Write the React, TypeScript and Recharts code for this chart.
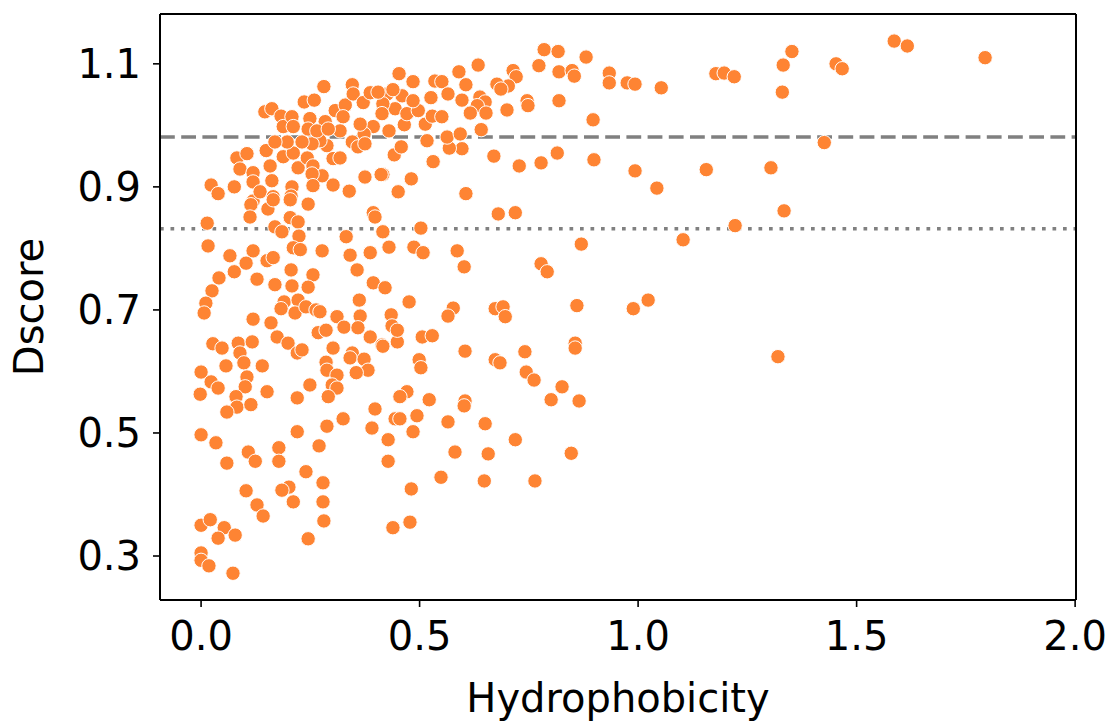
import { ScatterChart, Scatter, XAxis, YAxis, ReferenceLine } from 'recharts';

// values
const hydrophobicity = [
  0.975, 0.993, 1.053, 1.178, 1.197, 1.22, 1.332, 1.352, 1.33, 1.453, 1.467, 1.586, 1.616, 1.794,
  1.426, 0.993, 1.043, 1.156, 1.304, 1.334, 1.222, 1.103, 0.989, 1.023, 1.32,
  0.785, 0.817, 0.881, 0.773, 0.819, 0.849, 0.854, 0.934, 0.934, 0.819, 0.897, 0.714, 0.721, 0.703,
  0.677, 0.686, 0.634, 0.59, 0.606, 0.597, 0.638, 0.65, 0.632, 0.616, 0.652, 0.641, 0.7, 0.746,
  0.748, 0.67, 0.728, 0.778, 0.815, 0.899, 0.606, 0.481, 0.451, 0.416, 0.531, 0.442, 0.458, 0.597,
  0.568, 0.563, 0.593, 0.517, 0.43, 0.465, 0.513, 0.526, 0.535, 0.551, 0.565, 0.485, 0.453, 0.46,
  0.444, 0.471, 0.497, 0.529, 0.551, 0.485, 0.426, 0.416, 0.68, 0.719,
  0.281, 0.346, 0.236, 0.259, 0.146, 0.162, 0.183, 0.188, 0.208, 0.249, 0.284, 0.307, 0.33, 0.325,
  0.318, 0.348, 0.371, 0.387, 0.405, 0.414, 0.394, 0.373, 0.364, 0.439,
  0.082, 0.105, 0.089, 0.119, 0.149, 0.158, 0.188, 0.211, 0.222, 0.243, 0.256, 0.277, 0.254, 0.302,
  0.318, 0.288, 0.272, 0.254, 0.231, 0.197, 0.169, 0.211, 0.245, 0.265, 0.291, 0.346, 0.359, 0.375,
  0.023, 0.039, 0.076, 0.119, 0.119, 0.135, 0.162, 0.165, 0.208, 0.206, 0.256, 0.245, 0.302, 0.339,
  0.375, 0.412, 0.114, 0.153, 0.394,
  0.014, 0.016, 0.066, 0.076, 0.041, 0.025, 0.011, 0.007, 0.119, 0.103, 0.128, 0.151, 0.165, 0.112,
  0.165, 0.204, 0.204, 0.222, 0.169, 0.185, 0.224, 0.211, 0.227, 0.277, 0.206, 0.256, 0.169, 0.208,
  0.245, 0.19, 0.183, 0.222, 0.215, 0.24, 0.263, 0.272, 0.119, 0.16, 0.174, 0.199, 0.22, 0.231,
  0.027, 0.048, 0.085, 0.117, 0.089, 0.098, 0.057, 0.14, 0.0, 0.023, 0.039, 0.105, 0.101, -0.002,
  0.08, 0.151, 0.249, 0.22, 0.286, 0.302, 0.288, 0.311, 0.3, 0.311, 0.291, 0.268, 0.286, 0.311,
  0.327, 0.346, 0.341, 0.373, 0.382, 0.355, 0.362, 0.364, 0.359, 0.387, 0.414, 0.435, 0.437, 0.449,
  0.398, 0.416, 0.43, 0.332, 0.341, 0.357, 0.387, 0.394, 0.421,
  0.503, 0.487, 0.508, 0.586, 0.602, 0.778, 0.792, 0.87, 0.476, 0.577, 0.565, 0.673, 0.691, 0.696,
  0.86, 0.449, 0.416, 0.506, 0.529, 0.604, 0.673, 0.684, 0.741, 0.856, 0.856, 0.499, 0.503, 0.744,
  0.762, 0.826, 0.471, 0.455, 0.522, 0.801, 0.865, 0.604,
  0.082, 0.114, 0.059, 0.398, 0.444, 0.325, 0.288, 0.22, 0.391, 0.428, 0.428, 0.0, 0.034, 0.059,
  0.108, 0.124, 0.178, 0.178, 0.27, 0.24, 0.279, 0.279, 0.281, 0.245, 0.201, 0.185, 0.211, 0.103,
  0.128, 0.142, 0.0, 0.021, 0.053, 0.039, 0.078, 0.0, 0.0, 0.018, 0.073, 0.439,
  0.602, 0.455, 0.494, 0.485, 0.565, 0.65, 0.581, 0.657, 0.719, 0.847, 0.549, 0.648, 0.764, 0.481,
  0.478,
];

const dscore = [
  1.069, 1.067, 1.061, 1.084, 1.085, 1.079, 1.098, 1.12, 1.054, 1.1, 1.092, 1.137, 1.129, 1.11,
  0.972, 0.926, 0.898, 0.928, 0.931, 0.861, 0.837, 0.814, 0.702, 0.716, 0.624,
  1.123, 1.12, 1.111, 1.097, 1.087, 1.089, 1.08, 1.085, 1.069, 1.04, 1.009, 1.089, 1.079, 1.064,
  1.067, 1.059, 1.098, 1.087, 1.066, 1.041, 1.046, 1.038, 1.032, 1.02, 1.02, 0.993, 1.025, 1.04,
  1.032, 0.95, 0.934, 0.939, 0.955, 0.944, 0.889, 0.913, 0.892, 0.92, 0.941, 0.952, 0.965, 0.962,
  0.963, 0.981, 0.986, 0.975, 0.991, 1.001, 1.002, 1.045, 1.072, 1.071, 1.051, 1.071, 1.084, 1.048,
  1.027, 1.019, 1.024, 1.015, 1.014, 1.04, 1.051, 1.035, 0.856, 0.858,
  1.063, 1.066, 1.038, 1.041, 1.022, 1.027, 1.015, 0.998, 1.014, 1.011, 1.006, 1.024, 1.033, 1.014,
  0.991, 1.051, 1.037, 1.053, 1.054, 1.019, 0.998, 0.986, 1.002, 1.058,
  0.947, 0.954, 0.929, 0.923, 0.959, 0.934, 0.949, 0.955, 0.931, 0.947, 0.934, 0.918, 0.921, 0.946,
  0.947, 0.967, 0.975, 0.97, 0.973, 0.973, 0.973, 0.998, 0.994, 0.991, 0.994, 0.973, 0.965, 0.97,
  0.903, 0.889, 0.9, 0.908, 0.877, 0.892, 0.91, 0.884, 0.9, 0.885, 0.902, 0.872, 0.903, 0.893,
  0.916, 0.92, 0.871, 0.864, 0.858,
  0.841, 0.804, 0.788, 0.762, 0.752, 0.731, 0.711, 0.695, 0.796, 0.776, 0.75, 0.78, 0.785, 0.851,
  0.879, 0.879, 0.85, 0.843, 0.835, 0.827, 0.82, 0.801, 0.798, 0.796, 0.765, 0.757, 0.741, 0.739,
  0.737, 0.713, 0.702, 0.716, 0.695, 0.705, 0.7, 0.697, 0.685, 0.679, 0.656, 0.646, 0.63, 0.635,
  0.645, 0.638, 0.646, 0.648, 0.63, 0.614, 0.609, 0.609, 0.599, 0.583, 0.573, 0.591, 0.575, 0.563,
  0.559, 0.567, 0.578, 0.557, 0.615, 0.638, 0.602, 0.594, 0.578, 0.573, 0.559, 0.663, 0.667, 0.689,
  0.672, 0.63, 0.622, 0.62, 0.602, 0.598, 0.716, 0.69, 0.671, 0.656, 0.643, 0.692, 0.674, 0.648,
  0.851, 0.827, 0.802, 0.819, 0.789, 0.765, 0.793, 0.744, 0.736,
  0.833, 0.802, 0.793, 0.796, 0.77, 0.775, 0.762, 0.807, 0.713, 0.703, 0.69, 0.702, 0.705, 0.689,
  0.707, 0.667, 0.641, 0.656, 0.658, 0.633, 0.619, 0.614, 0.632, 0.646, 0.638, 0.619, 0.606, 0.599,
  0.586, 0.575, 0.567, 0.559, 0.554, 0.554, 0.552, 0.552,
  0.542, 0.546, 0.534, 0.539, 0.523, 0.523, 0.511, 0.502, 0.508, 0.489, 0.454, 0.497, 0.484, 0.451,
  0.469, 0.454, 0.476, 0.454, 0.479, 0.437, 0.419, 0.388, 0.357, 0.328, 0.412, 0.407, 0.388, 0.406,
  0.383, 0.365, 0.35, 0.359, 0.346, 0.329, 0.334, 0.305, 0.293, 0.284, 0.272, 0.346,
  0.544, 0.523, 0.528, 0.502, 0.518, 0.515, 0.469, 0.466, 0.489, 0.467, 0.428, 0.422, 0.422, 0.409,
  0.355,
];

const xTicks = [0, 0.5, 1, 1.5, 2];
const yTicks = [0.3, 0.5, 0.7, 0.9, 1.1];
const X_MIN = -0.094;
const X_MAX = 2.002;
const Y_MIN = 0.2285;
const Y_MAX = 1.181;
const DASHED_LEVEL = 0.981;
const DOTTED_LEVEL = 0.832;

const points = hydrophobicity.map((x, i) => ({ x, y: dscore[i] }));

const FONT = { fontSize: 40, fill: '#000', fontFamily: 'DejaVu Sans' };

function Dot(props: any) {
  return <circle cx={props.cx} cy={props.cy} r={7.2} fill="#fe8433" stroke="#fff" strokeWidth={1} />;
}

export default function App() {
  return (
    <div style={{ position: 'absolute', left: 0, top: 0, background: '#fff' }}>
      <ScatterChart width={1111} height={722} margin={{ top: 14, right: 35, left: 0, bottom: 0 }}>
        <XAxis
          type="number"
          dataKey="x"
          domain={[X_MIN, X_MAX]}
          allowDataOverflow
          ticks={xTicks}
          interval={0}
          tickFormatter={(v: number) => v.toFixed(1)}
          height={122}
          tickSize={7}
          tickMargin={15}
          tick={FONT}
          tickLine={{ stroke: '#000', strokeWidth: 1.6 }}
          axisLine={{ stroke: '#000', strokeWidth: 2 }}
          label={{ value: 'Hydrophobicity', position: 'insideBottom', offset: 10, style: { ...FONT, textAnchor: 'middle' } }}
        />
        <YAxis
          type="number"
          dataKey="y"
          domain={[Y_MIN, Y_MAX]}
          allowDataOverflow
          ticks={yTicks}
          interval={0}
          tickFormatter={(v: number) => v.toFixed(1)}
          width={160}
          tickSize={7}
          tickMargin={12}
          tick={FONT}
          tickLine={{ stroke: '#000', strokeWidth: 1.6 }}
          axisLine={{ stroke: '#000', strokeWidth: 2 }}
          label={{ value: 'Dscore', angle: -90, position: 'insideLeft', offset: 29, style: { ...FONT, textAnchor: 'middle' } }}
        />
        <Scatter data={points} shape={Dot} isAnimationActive={false} />
        <ReferenceLine y={DASHED_LEVEL} stroke="#808080" strokeWidth={3.5} strokeDasharray="14.8 6.4" />
        <ReferenceLine y={DOTTED_LEVEL} stroke="#808080" strokeWidth={3.5} strokeDasharray="3.7 6.8" />
        <ReferenceLine y={Y_MAX} stroke="#000" strokeWidth={2} />
        <ReferenceLine x={X_MAX} stroke="#000" strokeWidth={2} />
      </ScatterChart>
    </div>
  );
}
